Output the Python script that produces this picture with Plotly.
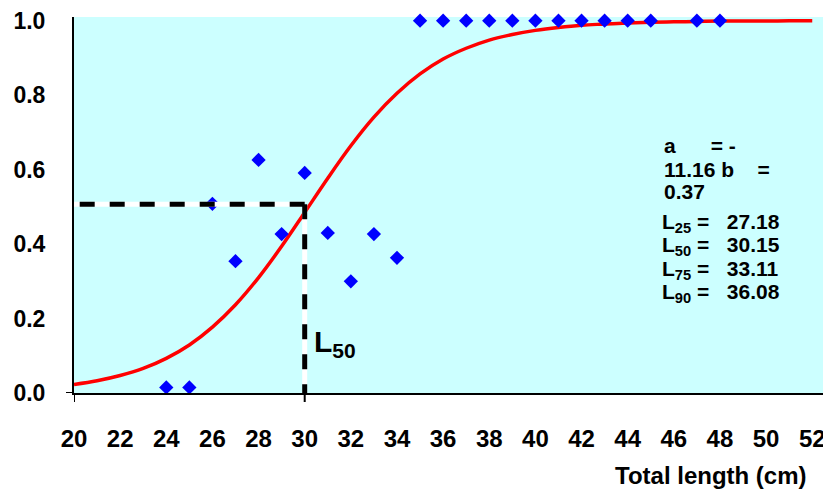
import plotly.graph_objects as go

# ---------------- data ----------------
obs_length = [24, 25, 26, 27, 28, 29, 30, 31, 32, 33, 34,
              35, 36, 37, 38, 39, 40, 41, 42, 43, 44, 45, 47, 48]
obs_mature = [0.015, 0.015, 0.508, 0.354, 0.626, 0.427, 0.591, 0.430, 0.300, 0.427, 0.363,
              1.0, 1.0, 1.0, 1.0, 1.0, 1.0, 1.0, 1.0, 1.0, 1.0, 1.0, 1.0, 1.0]

curve_length = list(range(20, 53))
curve_prop = [0.023, 0.033, 0.047, 0.066, 0.093, 0.129, 0.177, 0.237, 0.310, 0.394,
              0.485, 0.577, 0.664, 0.741, 0.805, 0.857, 0.897, 0.926, 0.948, 0.963,
              0.974, 0.982, 0.988, 0.991, 0.994, 0.996, 0.997, 0.998, 0.999, 0.999,
              0.999, 1.000, 1.000]

L50_mark = 30
P50 = 0.507

param_lines = ["a\u00a0\u00a0\u00a0\u00a0\u00a0\u00a0=\u00a0-",
               "11.16\u00a0b\u00a0\u00a0\u00a0\u00a0=",
               "0.37"]
L_labels = ["L<sub>25</sub>\u00a0=\u00a0\u00a0\u00a027.18",
            "L<sub>50</sub>\u00a0=\u00a0\u00a0\u00a030.15",
            "L<sub>75</sub>\u00a0=\u00a0\u00a0\u00a033.11",
            "L<sub>90</sub>\u00a0=\u00a0\u00a0\u00a036.08"]

x_ticks = list(range(20, 54, 2))
y_ticks = [0.0, 0.2, 0.4, 0.6, 0.8, 1.0]
y_tick_text = ["0.0", "0.2", "0.4", "0.6", "0.8", "1.0"]

# ---------------- figure ----------------
FONT = "Liberation Sans, Arial, sans-serif"
W, H = 823, 491
ML, MR, MT, MB = 74, 0, 17, 98
PW, PH = W - ML - MR, H - MT - MB

fig = go.Figure()

fig.add_trace(go.Scatter(
    x=curve_length, y=curve_prop, mode="lines",
    line=dict(color="#FF0000", width=3.5, shape="spline"),
    hoverinfo="skip", cliponaxis=True))

fig.add_trace(go.Scatter(
    x=obs_length, y=obs_mature, mode="markers",
    marker=dict(symbol="diamond", size=11, color="#0000FF", line=dict(width=0)),
    cliponaxis=False))

# dashed L50 guide lines (white under black dashes)
for col, dash in [("white", "solid"), ("black", "15px,15px")]:
    fig.add_shape(type="line", xref="x", yref="y", x0=L50_mark, x1=20, y0=P50, y1=P50,
                  line=dict(color=col, width=5, dash=dash), layer="above")
    fig.add_shape(type="line", xref="x", yref="y", x0=L50_mark, x1=L50_mark, y0=P50, y1=0,
                  line=dict(color=col, width=5, dash=dash), layer="above")

# axis tick stubs
fig.add_shape(type="line", xref="x", yref="paper", x0=20, x1=20, y0=0, y1=-9 / PH,
              line=dict(color="black", width=2))
fig.add_shape(type="line", xref="x", yref="paper", x0=L50_mark, x1=L50_mark, y0=0, y1=-9 / PH,
              line=dict(color="black", width=2))
fig.add_shape(type="line", xref="paper", yref="y", x0=-8 / PW, x1=0, y0=0, y1=0,
              line=dict(color="black", width=2))

def py(p):  # pixel row -> paper y
    return (MT + PH - p) / PH

def px(p):
    return (p - ML) / PW

ann = []
for i, t in enumerate(param_lines):
    ann.append(dict(text=t, x=px(662), y=py([145, 169, 191][i]), xref="paper", yref="paper",
                    xanchor="left", yanchor="middle", showarrow=False,
                    font=dict(family=FONT, size=21, color="black", weight="bold")))
for i, t in enumerate(L_labels):
    ann.append(dict(text=t, x=px(660), y=py([223, 246, 270, 293][i]), xref="paper", yref="paper",
                    xanchor="left", yanchor="middle", showarrow=False,
                    font=dict(family=FONT, size=21, color="black", weight="bold")))
ann.append(dict(text="L<sub>50</sub>", x=px(312), y=py(343), xref="paper", yref="paper",
                xanchor="left", yanchor="middle", showarrow=False,
                font=dict(family=FONT, size=30, color="black", weight="bold")))
ann.append(dict(text="Total length (cm)", x=px(809), y=py(475), xref="paper", yref="paper",
                xanchor="right", yanchor="middle", showarrow=False,
                font=dict(family=FONT, size=24, color="black", weight="bold")))

fig.update_layout(
    width=W, height=H,
    margin=dict(l=ML, r=MR, t=MT, b=MB, autoexpand=False),
    paper_bgcolor="white", plot_bgcolor="rgb(204,255,255)",
    showlegend=False,
    annotations=ann,
    xaxis=dict(range=[20, 20 + PW / 23.07], tickvals=x_ticks,
               ticktext=[str(v) for v in x_ticks], automargin=False,
               ticklabeloverflow="allow",
               showgrid=False, zeroline=False, showline=True, linecolor="black", linewidth=2,
               ticks="", ticklabelstandoff=23,
               tickfont=dict(family=FONT, size=24, color="black", weight="bold")),
    yaxis=dict(range=[0, (PH) / 372.3], tickvals=y_ticks, ticktext=y_tick_text,
               automargin=False,
               showgrid=False, zeroline=False, showline=True, linecolor="black", linewidth=2,
               ticks="", ticklabelstandoff=22,
               tickfont=dict(family=FONT, size=23, color="black", weight="bold")),
)

fig.write_html("out.html", config={"displayModeBar": False},
               post_script="document.body.style.margin='0px';")
